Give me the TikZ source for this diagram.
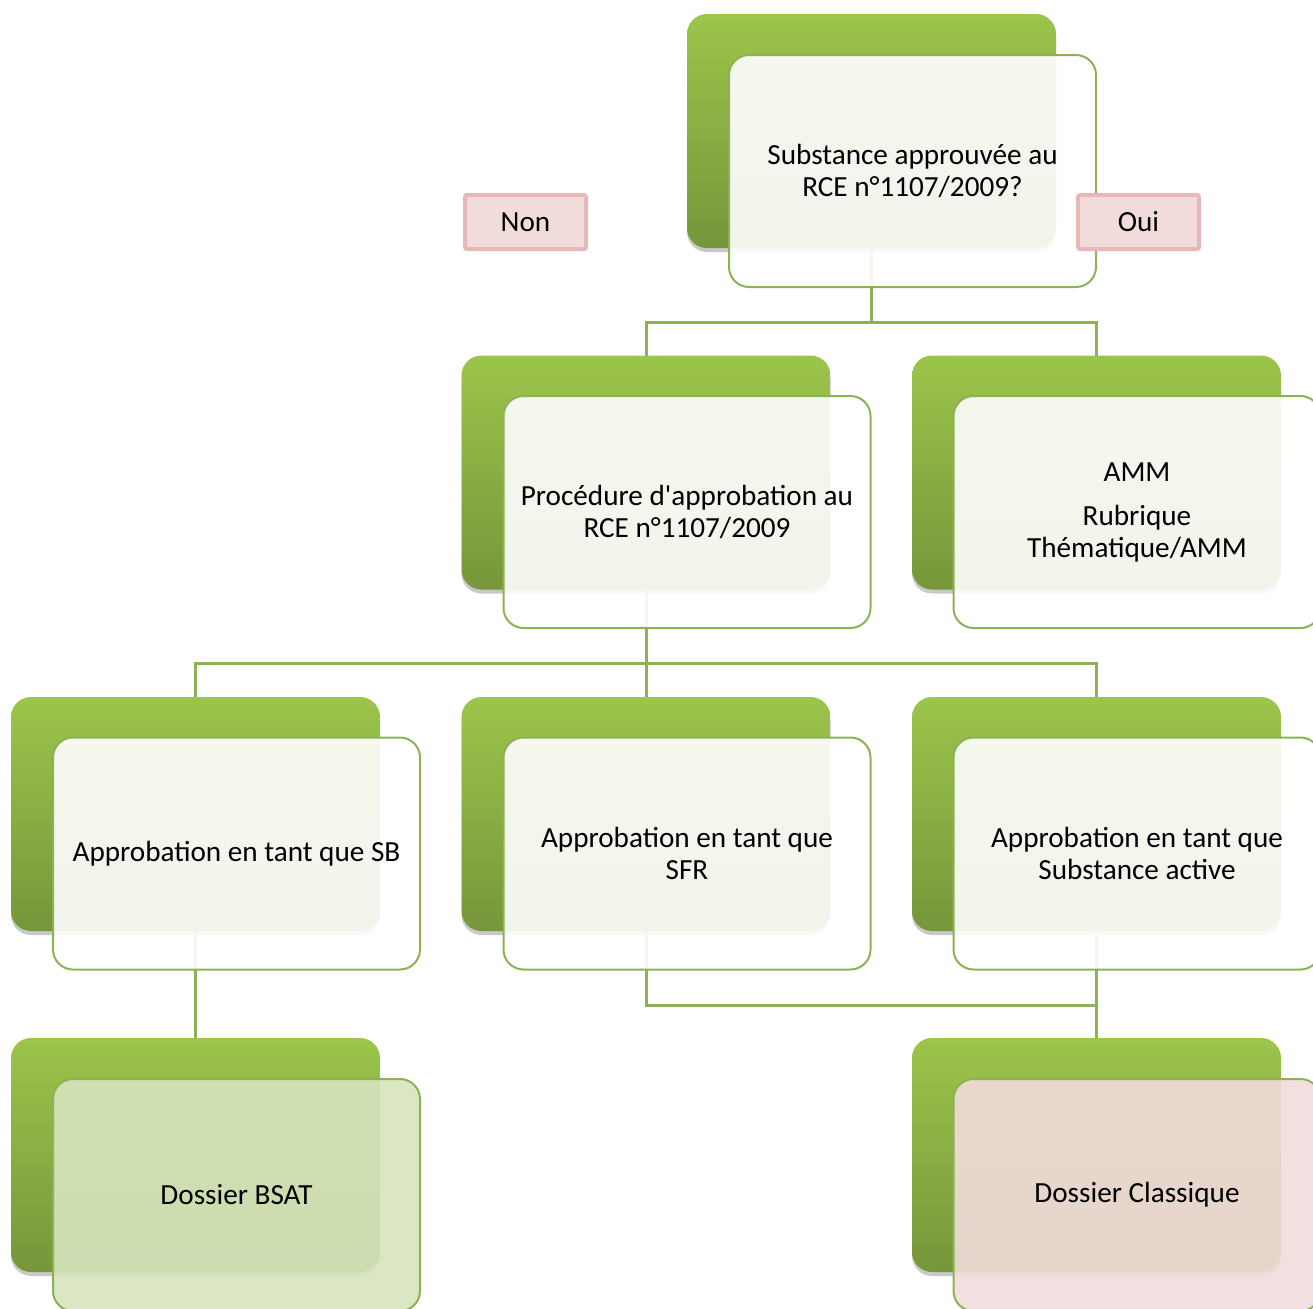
\documentclass[tikz,border=0pt]{standalone}
\usepackage{fontspec}
\setmainfont{Carlito}[Ligatures=TeXOff]
\usetikzlibrary{shadows}

\definecolor{leafgreen}{HTML}{9CC54B}
\definecolor{darkleaf}{HTML}{76963A}
\definecolor{linegreen}{HTML}{8DB255}
\definecolor{rosefill}{HTML}{F2DCDB}
\definecolor{roseline}{HTML}{E6B9B8}
\definecolor{sagefill}{HTML}{D7E4BD}

\tikzset{
  back/.style={rounded corners=10pt, minimum width=184.5pt, minimum height=117pt,
    inner sep=0pt, outer sep=0pt, top color=leafgreen, middle color=leafgreen,
    bottom color=darkleaf,
    drop shadow={shadow xshift=0pt, shadow yshift=-2pt, opacity=.3, fill=black!70}},
  front/.style={rounded corners=10pt, minimum width=183.5pt, minimum height=116pt,
    inner sep=0pt, outer sep=0pt, draw=linegreen, line width=1pt,
    fill=white, fill opacity=.9, text opacity=1, align=center,
    font=\fontsize{14.6}{16}\selectfont},
  answer/.style={draw=roseline, line width=2pt, fill=rosefill, rounded corners=1pt,
    minimum width=60.5pt, minimum height=27pt, inner sep=0pt,
    font=\fontsize{14.6}{16}\selectfont},
  link/.style={draw=linegreen, line width=1.5pt}
}

\begin{document}
\begin{tikzpicture}[x=0.5pt, y=-0.5pt]
  \useasboundingbox (0,0) rectangle (1313,1308);
  \clip (0,0) rectangle (1313,1308);

  % back boxes
  \node[back] (topB) at (871.5,131) {};
  \node[back] (procB) at (646,472.5) {};
  \node[back] (ammB) at (1096.5,472.5) {};
  \node[back] (sbB) at (195.5,814) {};
  \node[back] (sfrB) at (646,814) {};
  \node[back] (saB) at (1096.5,814) {};
  \node[back] (bsatB) at (195.5,1155) {};
  \node[back] (classB) at (1096.5,1155) {};

  % connectors
  \coordinate (j1) at (871.5,322);
  \draw[link] (topB.south) -- (j1) -| (procB.north);
  \draw[link] (j1) -| (ammB.north);

  \coordinate (j2) at (646,663);
  \draw[link] (procB.south) -- (j2) -| (sbB.north);
  \draw[link] (j2) -- (sfrB.north);
  \draw[link] (j2) -| (saB.north);

  \draw[link] (sbB.south) -- (bsatB.north);
  \coordinate (j3) at (1096.5,1005);
  \draw[link] (sfrB.south) |- (j3) -- (classB.north);
  \draw[link] (saB.south) -- (j3);

  % front boxes
  \node[front] (topF) at (912.5,171) {Substance approuvée au\\RCE n°1107/2009?};
  \node[front] (procF) at (687,512) {Procédure d'approbation au\\RCE n°1107/2009};
  \node[front] (ammF) at (1137,512) {AMM\\[6pt]Rubrique\\Thématique/AMM};
  \node[front] (sbF) at (236.5,853.5) {Approbation en tant que SB};
  \node[front] (sfrF) at (687,853.5) {Approbation en tant que\\SFR};
  \node[front] (saF) at (1137,853.5) {Approbation en tant que\\Substance active};
  \node[front, fill=sagefill] (bsatF) at (236.5,1195) {Dossier BSAT};
  \node[front, fill=rosefill] (classF) at (1137,1195) {Dossier Classique};

  % answers
  \node[answer] (non) at (525.5,222) {Non};
  \node[answer] (oui) at (1138.5,222) {Oui};
\end{tikzpicture}
\end{document}
